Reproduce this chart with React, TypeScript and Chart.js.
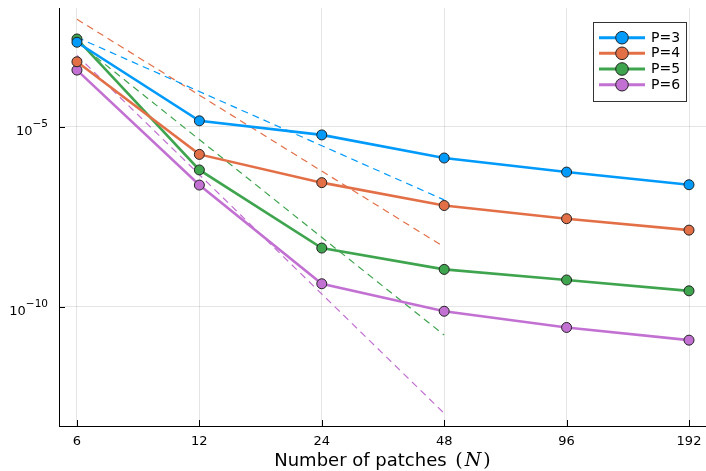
import React, { useEffect, useRef } from 'react';
import { Chart, registerables } from 'chart.js';

Chart.register(...registerables);

// ---- data ----
const patches = [6, 12, 24, 48, 96, 192];
const seriesLabels = ['P=3', 'P=4', 'P=5', 'P=6'];
const errP3 = [2.19e-3, 1.45e-5, 5.9e-6, 1.35e-6, 5.5e-7, 2.45e-7];
const errP4 = [6.3e-4, 1.7e-6, 2.8e-7, 6.5e-8, 2.8e-8, 1.35e-8];
const errP5 = [2.7e-3, 6.3e-7, 4.3e-9, 1.1e-9, 5.6e-10, 2.8e-10];
const errP6 = [3.7e-4, 2.4e-7, 4.4e-10, 7.6e-11, 2.7e-11, 1.2e-11];

// reference slope lines (dashed)
const refN = [6, 48];
const refP3 = [3.0e-3, 9.3e-8];
const refP4 = [9.5e-3, 4.6e-9];
const refP5 = [2.24e-3, 1.66e-11];
const refP6 = [9.5e-4, 1.12e-13];

const xTickValues = [6, 12, 24, 48, 96, 192];
const yTickExponents = [-10, -5];
const xAxisTitle = 'Number of patches ';
const xAxisSymbol = 'N';

const colors = ['#009AFA', '#E36F47', '#3EA44E', '#C271D2'];

const FONT = '"DejaVu Sans", sans-serif';

function pts(xs: number[], ys: number[]) {
  return xs.map((x, i) => ({ x, y: ys[i] }));
}

export default function App() {
  const ref = useRef<HTMLCanvasElement | null>(null);

  useEffect(() => {
    const canvas = ref.current;
    if (!canvas) return;
    const errs = [errP3, errP4, errP5, errP6];
    const refs = [refP3, refP4, refP5, refP6];

    const solid = errs.map((e, i) => ({
      label: seriesLabels[i],
      data: pts(patches, e),
      borderColor: colors[i],
      backgroundColor: colors[i],
      borderWidth: 2.6,
      pointRadius: 5,
      pointBorderWidth: 1,
      pointBorderColor: '#222',
      pointBackgroundColor: colors[i],
      tension: 0,
      order: 1,
    }));
    const dashed = refs.map((r, i) => ({
      label: '',
      data: pts(refN, r),
      borderColor: colors[i],
      borderWidth: 1.2,
      borderDash: [7, 5],
      pointRadius: 0,
      tension: 0,
      order: 2,
    }));

    const overlay = {
      id: 'overlay',
      afterDraw(chart: any) {
        const ctx = chart.ctx as CanvasRenderingContext2D;
        const xs = chart.scales.x;
        const ys = chart.scales.y;
        const area = chart.chartArea;
        ctx.save();
        // inward tick marks
        ctx.strokeStyle = '#000';
        ctx.lineWidth = 1;
        ctx.beginPath();
        for (const v of xTickValues) {
          const px = Math.round(xs.getPixelForValue(v)) + 0.5;
          ctx.moveTo(px, area.bottom);
          ctx.lineTo(px, area.bottom - 6);
        }
        for (const e of yTickExponents) {
          const py = Math.round(ys.getPixelForValue(Math.pow(10, e))) + 0.5;
          ctx.moveTo(area.left, py);
          ctx.lineTo(area.left + 6, py);
        }
        ctx.stroke();

        // y tick labels 10^e
        ctx.fillStyle = '#000';
        ctx.textBaseline = 'alphabetic';
        ctx.textAlign = 'left';
        for (const e of yTickExponents) {
          const py = ys.getPixelForValue(Math.pow(10, e));
          const sup = '\u2212' + String(Math.abs(e));
          ctx.font = '10.5px ' + FONT;
          const supW = ctx.measureText(sup).width;
          ctx.font = '13px ' + FONT;
          const baseW = ctx.measureText('10').width;
          const right = area.left - 11;
          ctx.fillText('10', right - supW - baseW, py + 8);
          ctx.font = '10.5px ' + FONT;
          ctx.fillText(sup, right - supW, py);
        }

        // x axis title with math N
        const fSans = '18px ' + FONT;
        const fParen = '19px "DejaVu Serif", serif';
        const fIt = 'italic 19px "DejaVu Serif", serif';
        ctx.font = fSans;
        const w1 = ctx.measureText(xAxisTitle).width;
        ctx.font = fParen;
        const wp = ctx.measureText('(').width;
        ctx.font = fIt;
        const wn = ctx.measureText(xAxisSymbol).width;
        const gap = 2;
        const total = w1 + wp * 2 + wn + gap * 2 + 3;
        let x0 = (area.left + area.right) / 2 - total / 2;
        const by = 466;
        ctx.font = fSans;
        ctx.fillText(xAxisTitle, x0, by);
        x0 += w1 + 3;
        ctx.font = fParen;
        ctx.fillText('(', x0, by);
        x0 += wp + gap;
        ctx.font = fIt;
        ctx.fillText(xAxisSymbol, x0, by);
        x0 += wn + gap;
        ctx.font = fParen;
        ctx.fillText(')', x0, by);

        // legend
        const lx = 593.5, ly = 22.5, lw = 93, lh = 79;
        ctx.fillStyle = '#fff';
        ctx.fillRect(lx, ly, lw, lh);
        ctx.strokeStyle = '#333';
        ctx.lineWidth = 1;
        ctx.strokeRect(lx, ly, lw, lh);
        const rows = [37.7, 53.3, 69, 84.7];
        for (let i = 0; i < seriesLabels.length; i++) {
          const ry = rows[i];
          ctx.strokeStyle = colors[i];
          ctx.lineWidth = 3;
          ctx.beginPath();
          ctx.moveTo(599, ry);
          ctx.lineTo(645, ry);
          ctx.stroke();
          ctx.beginPath();
          ctx.arc(622, ry, 6.3, 0, Math.PI * 2);
          ctx.fillStyle = colors[i];
          ctx.fill();
          ctx.strokeStyle = '#222';
          ctx.lineWidth = 1;
          ctx.stroke();
          ctx.fillStyle = '#000';
          ctx.font = '14px ' + FONT;
          ctx.textBaseline = 'middle';
          ctx.fillText(seriesLabels[i], 651, ry + 0.5);
        }
        ctx.restore();
      },
    };

    const chart = new Chart(canvas, {
      type: 'line',
      data: { datasets: [...dashed, ...solid] as any },
      options: {
        animation: false,
        responsive: false,
        maintainAspectRatio: false,
        layout: { autoPadding: false, padding: { top: 8, right: 0, left: 0, bottom: 0 } },
        plugins: { legend: { display: false }, tooltip: { enabled: false } },
        scales: {
          x: {
            type: 'logarithmic',
            min: 5.42,
            max: 211.4,
            bounds: 'data',
            afterBuildTicks: (s: any) => {
              s.ticks = xTickValues.map((v) => ({ value: v }));
            },
            afterFit: (s: any) => {
              s.height = 45;
              s.paddingLeft = 0;
              s.paddingRight = 0;
            },
            grid: { color: 'rgba(0,0,0,0.1)', lineWidth: 1, drawTicks: false },
            border: { display: true, color: '#000', width: 1 },
            ticks: {
              autoSkip: false,
              maxRotation: 0,
              padding: 8,
              color: '#000',
              font: { family: FONT, size: 13 },
              callback: (v: any) => String(v),
            },
          },
          y: {
            type: 'logarithmic',
            min: 5.0e-14,
            max: 1.95e-2,
            bounds: 'data',
            afterBuildTicks: (s: any) => {
              s.ticks = yTickExponents.map((e) => ({ value: Math.pow(10, e) }));
            },
            afterFit: (s: any) => {
              s.width = 59;
              s.paddingTop = 0;
              s.paddingBottom = 0;
            },
            grid: { color: 'rgba(0,0,0,0.1)', lineWidth: 1, drawTicks: false },
            border: { display: true, color: '#000', width: 1 },
            ticks: { display: false },
          },
        },
      },
      plugins: [overlay],
    } as any);
    return () => chart.destroy();
  }, []);

  return (
    <div style={{ position: 'fixed', left: 0, top: 0, width: 706, height: 471, background: '#fff' }}>
      <canvas ref={ref} width={706} height={471} style={{ width: 706, height: 471, display: 'block' }} />
    </div>
  );
}
